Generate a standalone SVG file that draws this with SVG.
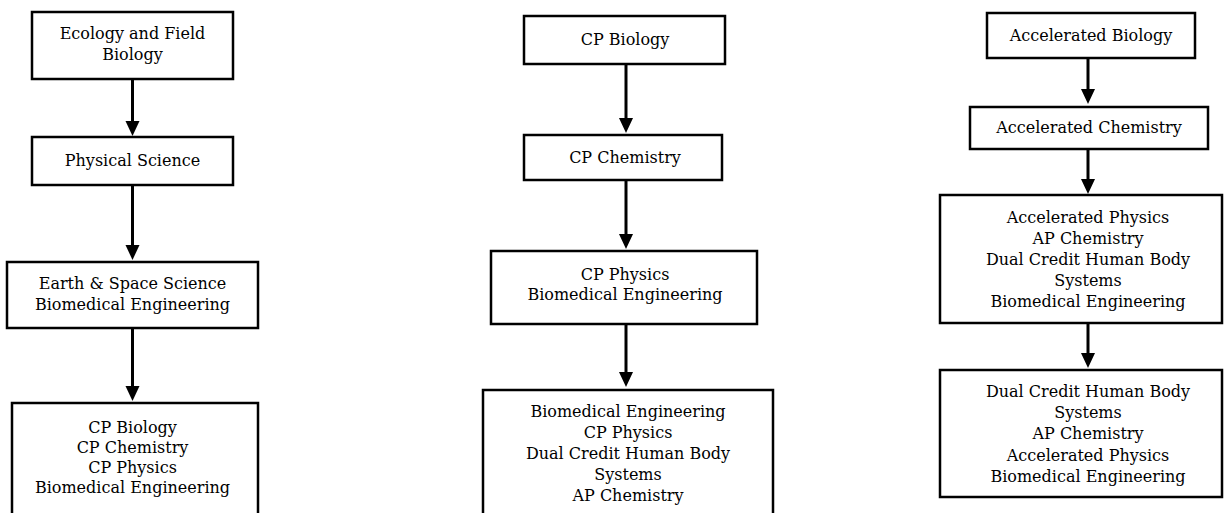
<svg xmlns="http://www.w3.org/2000/svg" width="1224" height="513" viewBox="0 0 1224 513">
<style>
.box{fill:#fff;stroke:#000;stroke-width:2.5}
.t{font-family:"DejaVu Serif","Liberation Serif",serif;font-size:16px;fill:#000;text-anchor:middle}
.c{stroke:#000;stroke-width:3;fill:none;marker-end:url(#ah)}
</style>
<defs>
<marker id="ah" markerUnits="userSpaceOnUse" markerWidth="16" markerHeight="15" refX="7" refY="7" orient="auto" viewBox="0 0 16 14">
<path d="M0,0 L15,7 L0,14 z" fill="#000"/>
</marker>
</defs>
<rect width="1224" height="513" fill="#fff"/>
<g id="connectors">
<line class="c" x1="132.5" y1="79" x2="132.5" y2="128"/>
<line class="c" x1="132.5" y1="185" x2="132.5" y2="252"/>
<line class="c" x1="132.5" y1="328" x2="132.5" y2="393"/>
<line class="c" x1="626" y1="64" x2="626" y2="125"/>
<line class="c" x1="626" y1="180" x2="626" y2="241"/>
<line class="c" x1="626" y1="324" x2="626" y2="379"/>
<line class="c" x1="1088" y1="58" x2="1088" y2="96"/>
<line class="c" x1="1088" y1="149" x2="1088" y2="186"/>
<line class="c" x1="1088" y1="323" x2="1088" y2="360"/>
</g>
<g id="n1">
<rect class="box" x="32" y="12" width="201" height="67"/>
<text class="t" x="132.5" y="39">Ecology and Field</text>
<text class="t" x="132.5" y="60">Biology</text>
</g>
<g id="n2">
<rect class="box" x="32" y="137" width="201" height="48"/>
<text class="t" x="132.5" y="166">Physical Science</text>
</g>
<g id="n3">
<rect class="box" x="7" y="262" width="251" height="66"/>
<text class="t" x="132.5" y="289">Earth &amp; Space Science</text>
<text class="t" x="132.5" y="310">Biomedical Engineering</text>
</g>
<g id="n4">
<rect class="box" x="12" y="403" width="246" height="130"/>
<text class="t" x="132.5" y="433">CP Biology</text>
<text class="t" x="132.5" y="453">CP Chemistry</text>
<text class="t" x="132.5" y="473">CP Physics</text>
<text class="t" x="132.5" y="493">Biomedical Engineering</text>
</g>
<g id="n5">
<rect class="box" x="524" y="16" width="201" height="48"/>
<text class="t" x="625" y="45">CP Biology</text>
</g>
<g id="n6">
<rect class="box" x="524" y="135" width="198" height="45"/>
<text class="t" x="625" y="163">CP Chemistry</text>
</g>
<g id="n7">
<rect class="box" x="491" y="251" width="266" height="73"/>
<text class="t" x="625" y="280">CP Physics</text>
<text class="t" x="625" y="300">Biomedical Engineering</text>
</g>
<g id="n8">
<rect class="box" x="483" y="390" width="290" height="140"/>
<text class="t" x="628" y="417">Biomedical Engineering</text>
<text class="t" x="628" y="438">CP Physics</text>
<text class="t" x="628" y="459">Dual Credit Human Body</text>
<text class="t" x="628" y="480">Systems</text>
<text class="t" x="628" y="501">AP Chemistry</text>
</g>
<g id="n9">
<rect class="box" x="987" y="13" width="208" height="45"/>
<text class="t" x="1091" y="41">Accelerated Biology</text>
</g>
<g id="n10">
<rect class="box" x="970" y="107" width="238" height="42"/>
<text class="t" x="1089" y="133">Accelerated Chemistry</text>
</g>
<g id="n11">
<rect class="box" x="940" y="195" width="282" height="128"/>
<text class="t" x="1088" y="223">Accelerated Physics</text>
<text class="t" x="1088" y="244">AP Chemistry</text>
<text class="t" x="1088" y="265">Dual Credit Human Body</text>
<text class="t" x="1088" y="286">Systems</text>
<text class="t" x="1088" y="307">Biomedical Engineering</text>
</g>
<g id="n12">
<rect class="box" x="940" y="370" width="282" height="127"/>
<text class="t" x="1088" y="397">Dual Credit Human Body</text>
<text class="t" x="1088" y="418">Systems</text>
<text class="t" x="1088" y="439">AP Chemistry</text>
<text class="t" x="1088" y="461">Accelerated Physics</text>
<text class="t" x="1088" y="482">Biomedical Engineering</text>
</g>
</svg>
